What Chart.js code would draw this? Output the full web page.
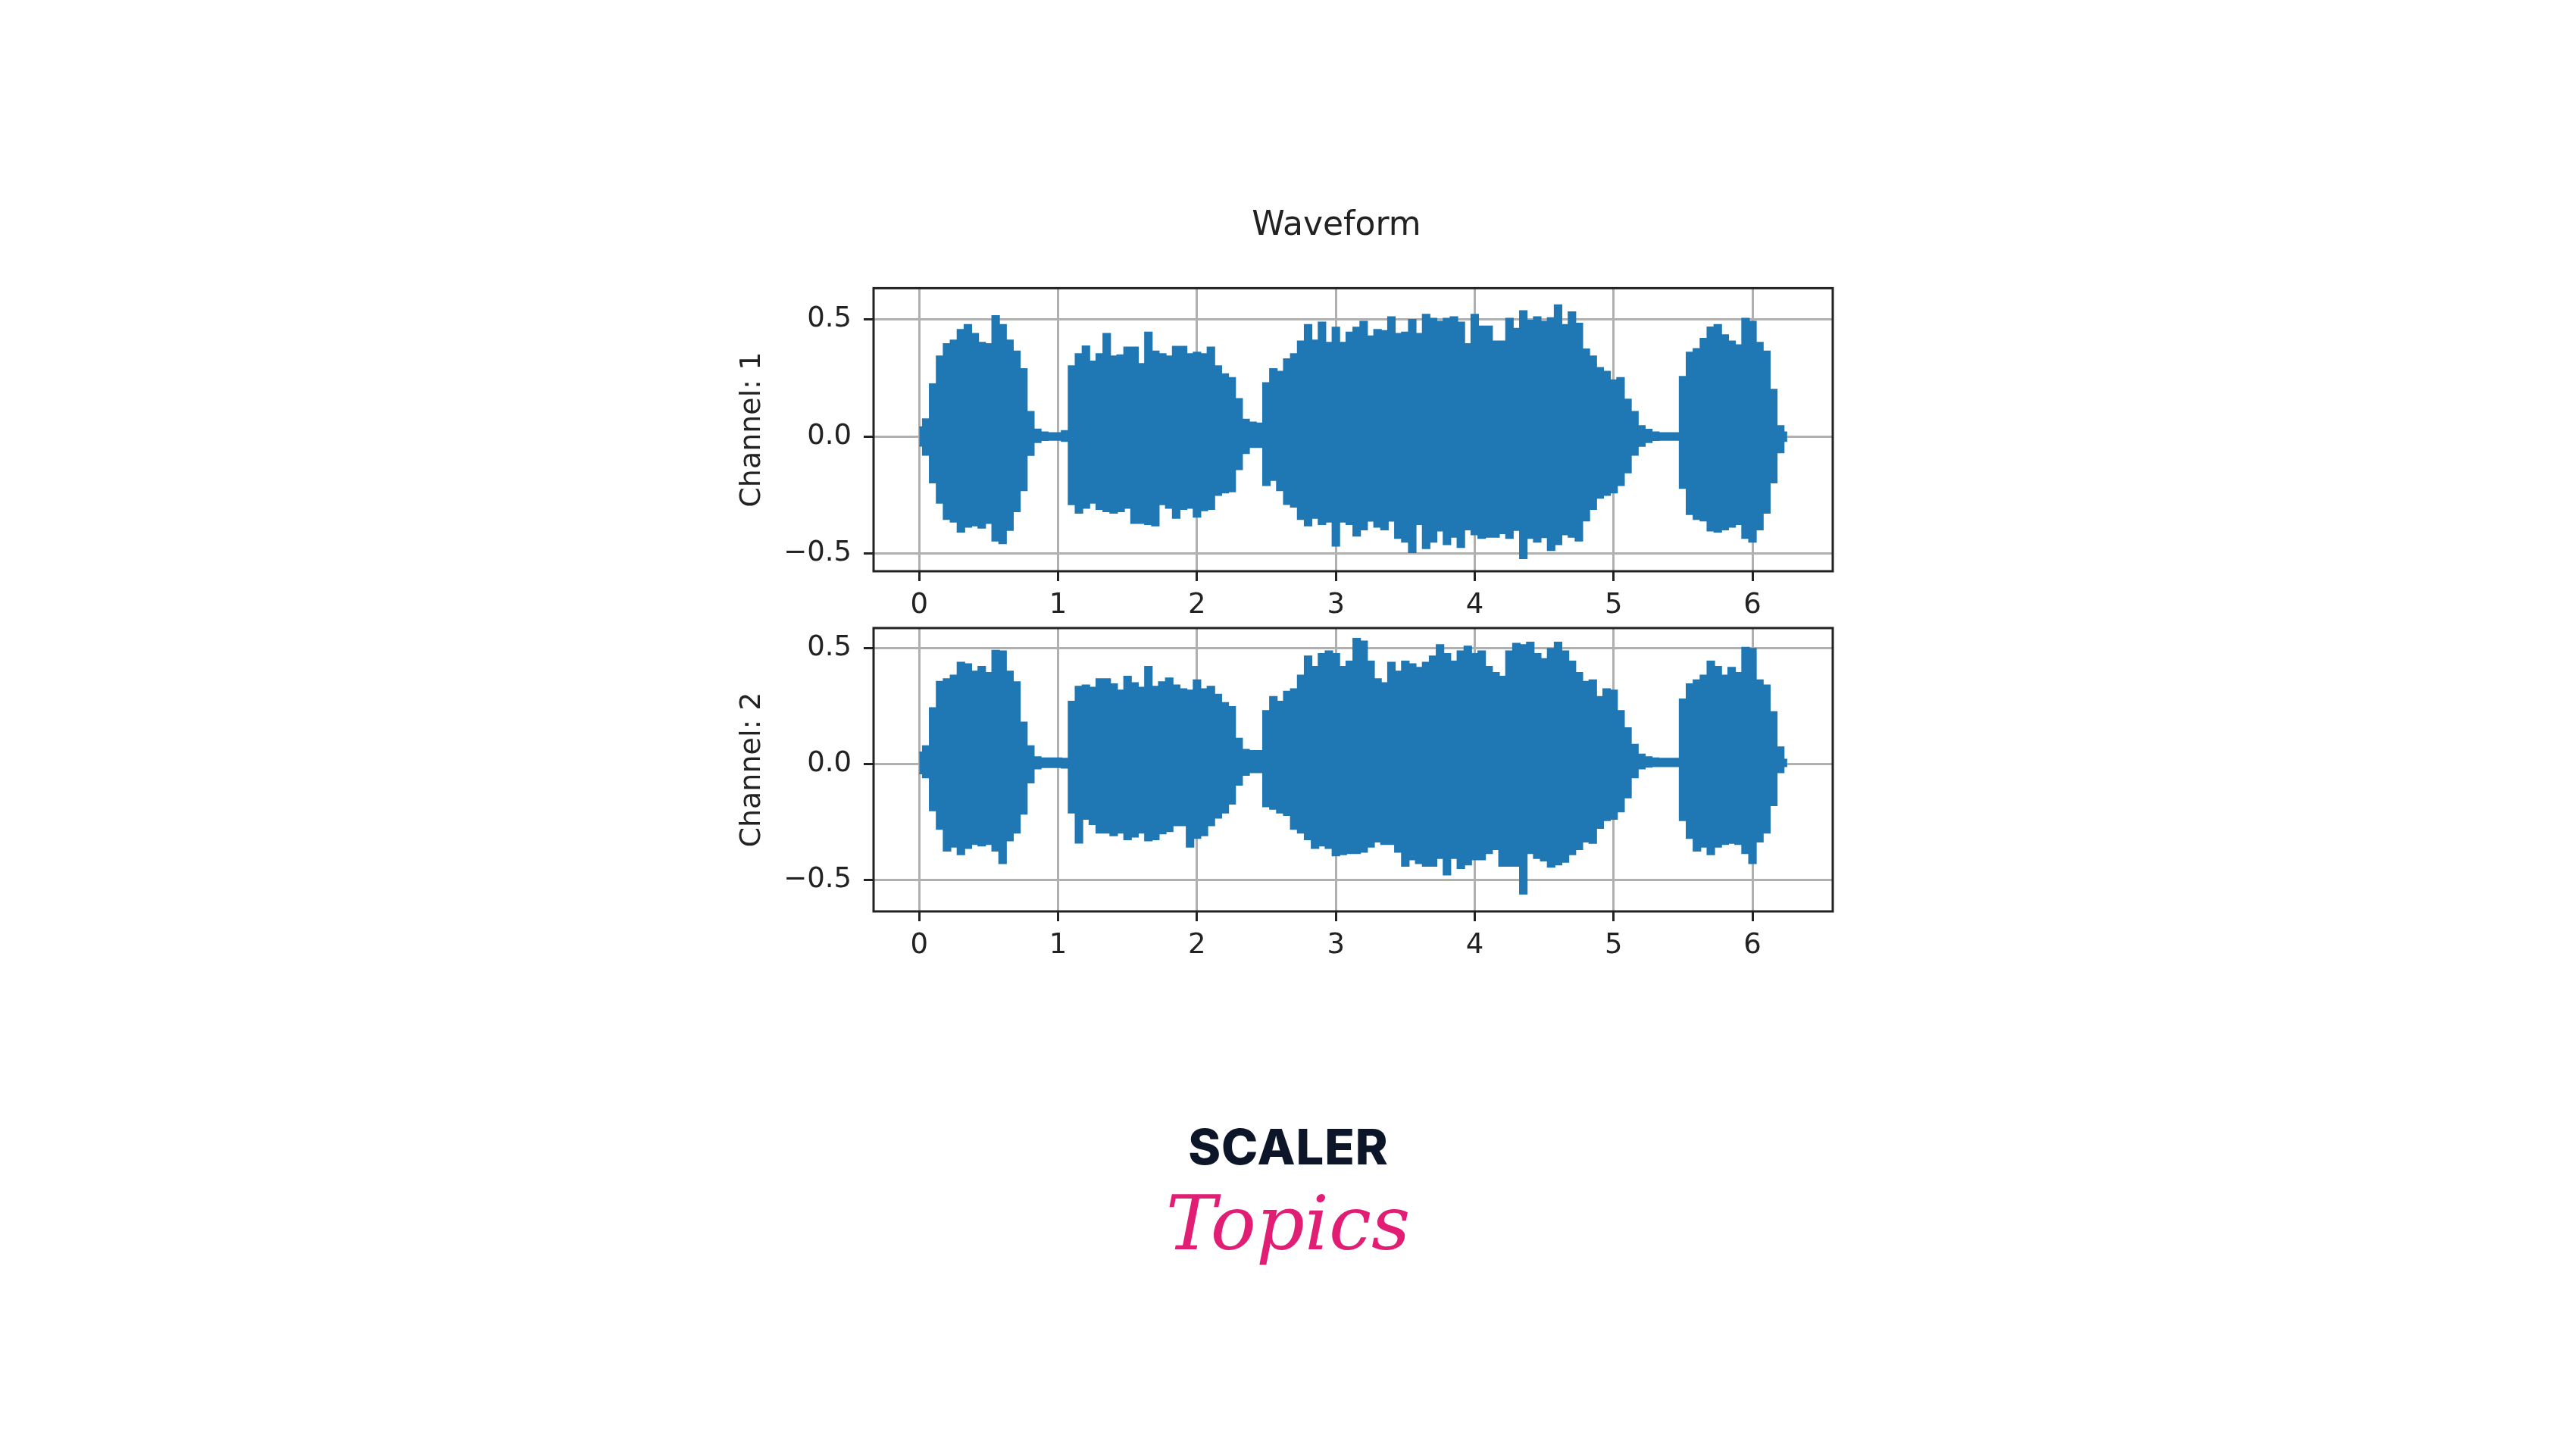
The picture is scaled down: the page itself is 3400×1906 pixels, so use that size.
<!DOCTYPE html>
<html>
<head>
<meta charset="utf-8">
<script src="https://cdn.jsdelivr.net/npm/chart.js@4.4.1/dist/chart.umd.min.js"></script>
<style>
  html, body { margin: 0; padding: 0; background: #fff; }
  body { width: 3400px; height: 1906px; position: relative; overflow: hidden; }
  canvas { position: absolute; left: 0; }
  #top { top: 0; }
  #bottom { top: 780px; }
  .logo { position: absolute; left: 0; width: 3400px; text-align: center; line-height: 1; white-space: nowrap; }
  #scaler { top: 1474px; font: 800 65px Inter, "Noto Sans", sans-serif; color: #0d1628; letter-spacing: 1px; padding-left: 1px; box-sizing: border-box; }
  #topics { top: 1556px; font: italic 100px "DejaVu Serif", serif; color: #e11d74; }
</style>
</head>
<body>
<canvas id="top" width="3400" height="825"></canvas>
<canvas id="bottom" width="3400" height="495"></canvas>
<div class="logo" id="scaler">SCALER</div>
<div class="logo" id="topics">Topics</div>
<script>
// envelope of the waveform, every 0.05 s
const times = [
  0, 0.05, 0.1, 0.15, 0.2, 0.25, 0.3, 0.35, 0.4, 0.45, 0.5, 0.55, 0.6, 0.65, 0.7, 0.75, 0.8, 0.85, 0.9, 0.95,
  1, 1.05, 1.1, 1.15, 1.2, 1.25, 1.3, 1.35, 1.4, 1.45, 1.5, 1.55, 1.6, 1.65, 1.7, 1.75, 1.8, 1.85, 1.9, 1.95,
  2, 2.05, 2.1, 2.15, 2.2, 2.25, 2.3, 2.35, 2.4, 2.45, 2.5, 2.55, 2.6, 2.65, 2.7, 2.75, 2.8, 2.85, 2.9, 2.95,
  3, 3.05, 3.1, 3.15, 3.2, 3.25, 3.3, 3.35, 3.4, 3.45, 3.5, 3.55, 3.6, 3.65, 3.7, 3.75, 3.8, 3.85, 3.9, 3.95,
  4, 4.05, 4.1, 4.15, 4.2, 4.25, 4.3, 4.35, 4.4, 4.45, 4.5, 4.55, 4.6, 4.65, 4.7, 4.75, 4.8, 4.85, 4.9, 4.95,
  5, 5.05, 5.1, 5.15, 5.2, 5.25, 5.3, 5.35, 5.4, 5.45, 5.5, 5.55, 5.6, 5.65, 5.7, 5.75, 5.8, 5.85, 5.9, 5.95,
  6, 6.05, 6.1, 6.15, 6.2, 6.25
];

const channel1High = [
  0.04, 0.074, 0.223, 0.342, 0.395, 0.41, 0.455, 0.476, 0.438, 0.40, 0.395, 0.514, 0.476, 0.41, 0.363, 0.288, 0.105, 0.03, 0.018, 0.015,
  0.015, 0.024, 0.30, 0.352, 0.385, 0.32, 0.352, 0.438, 0.342, 0.347, 0.38, 0.38, 0.31, 0.444, 0.363, 0.352, 0.342, 0.383, 0.383, 0.352,
  0.358, 0.352, 0.38, 0.30, 0.266, 0.25, 0.16, 0.072, 0.06, 0.056, 0.228, 0.288, 0.277, 0.33, 0.352, 0.406, 0.476, 0.41, 0.487, 0.40,
  0.465, 0.40, 0.444, 0.465, 0.49, 0.428, 0.455, 0.45, 0.509, 0.438, 0.444, 0.498, 0.438, 0.52, 0.503, 0.49, 0.503, 0.509, 0.487, 0.395,
  0.52, 0.47, 0.47, 0.406, 0.406, 0.503, 0.46, 0.535, 0.495, 0.509, 0.49, 0.505, 0.56, 0.476, 0.53, 0.482, 0.372, 0.342, 0.293, 0.277,
  0.24, 0.25, 0.158, 0.105, 0.045, 0.029, 0.018, 0.015, 0.015, 0.015, 0.255, 0.358, 0.374, 0.417, 0.466, 0.476, 0.433, 0.406, 0.39, 0.503,
  0.49, 0.40, 0.363, 0.20, 0.045, 0.018
];
const channel1Low = [
  -0.04, -0.079, -0.197, -0.283, -0.353, -0.364, -0.407, -0.386, -0.38, -0.39, -0.37, -0.445, -0.456, -0.40, -0.32, -0.23, -0.08, -0.025, -0.016, -0.015,
  -0.015, -0.02, -0.29, -0.326, -0.305, -0.283, -0.31, -0.32, -0.326, -0.32, -0.305, -0.37, -0.37, -0.375, -0.38, -0.29, -0.305, -0.348, -0.31, -0.305,
  -0.343, -0.316, -0.31, -0.25, -0.24, -0.235, -0.14, -0.072, -0.046, -0.046, -0.208, -0.186, -0.23, -0.289, -0.30, -0.353, -0.38, -0.348, -0.375, -0.364,
  -0.467, -0.364, -0.375, -0.424, -0.397, -0.36, -0.386, -0.397, -0.36, -0.434, -0.45, -0.494, -0.375, -0.477, -0.45, -0.402, -0.46, -0.429, -0.472, -0.397,
  -0.418, -0.434, -0.429, -0.429, -0.413, -0.434, -0.40, -0.52, -0.434, -0.45, -0.43, -0.485, -0.46, -0.418, -0.429, -0.445, -0.359, -0.31, -0.262, -0.25,
  -0.24, -0.208, -0.154, -0.079, -0.041, -0.025, -0.016, -0.015, -0.015, -0.015, -0.22, -0.332, -0.353, -0.359, -0.402, -0.407, -0.397, -0.386, -0.375, -0.434,
  -0.45, -0.397, -0.326, -0.197, -0.068, -0.02
];

const channel2High = [
  0.051, 0.078, 0.242, 0.356, 0.367, 0.383, 0.438, 0.432, 0.40, 0.42, 0.394, 0.49, 0.487, 0.40, 0.354, 0.18, 0.078, 0.03, 0.025, 0.025,
  0.025, 0.024, 0.27, 0.334, 0.34, 0.33, 0.367, 0.367, 0.345, 0.318, 0.378, 0.35, 0.33, 0.42, 0.334, 0.354, 0.37, 0.34, 0.324, 0.318,
  0.362, 0.324, 0.334, 0.30, 0.264, 0.247, 0.11, 0.062, 0.057, 0.057, 0.23, 0.29, 0.27, 0.313, 0.324, 0.383, 0.465, 0.42, 0.476, 0.487,
  0.476, 0.42, 0.443, 0.541, 0.53, 0.443, 0.367, 0.35, 0.438, 0.40, 0.443, 0.432, 0.416, 0.438, 0.465, 0.514, 0.476, 0.443, 0.487, 0.508,
  0.476, 0.487, 0.42, 0.394, 0.378, 0.487, 0.52, 0.514, 0.525, 0.476, 0.454, 0.498, 0.525, 0.487, 0.443, 0.394, 0.356, 0.362, 0.29, 0.324,
  0.318, 0.23, 0.155, 0.084, 0.042, 0.03, 0.025, 0.024, 0.024, 0.024, 0.28, 0.345, 0.362, 0.383, 0.443, 0.42, 0.383, 0.416, 0.394, 0.503,
  0.498, 0.362, 0.34, 0.225, 0.073, 0.02
];
const channel2Low = [
  -0.041, -0.058, -0.20, -0.28, -0.374, -0.357, -0.39, -0.363, -0.346, -0.352, -0.346, -0.374, -0.428, -0.33, -0.297, -0.215, -0.08, -0.02, -0.014, -0.014,
  -0.014, -0.016, -0.21, -0.34, -0.237, -0.26, -0.297, -0.297, -0.308, -0.297, -0.325, -0.314, -0.297, -0.33, -0.325, -0.30, -0.29, -0.265, -0.265, -0.357,
  -0.32, -0.308, -0.265, -0.232, -0.21, -0.172, -0.09, -0.047, -0.036, -0.036, -0.183, -0.194, -0.21, -0.221, -0.28, -0.297, -0.325, -0.363, -0.352, -0.363,
  -0.395, -0.39, -0.385, -0.385, -0.379, -0.357, -0.335, -0.346, -0.346, -0.379, -0.44, -0.412, -0.428, -0.44, -0.44, -0.406, -0.477, -0.406, -0.45, -0.434,
  -0.412, -0.412, -0.385, -0.368, -0.44, -0.44, -0.44, -0.56, -0.385, -0.406, -0.417, -0.444, -0.434, -0.423, -0.39, -0.368, -0.335, -0.341, -0.276, -0.243,
  -0.237, -0.205, -0.145, -0.058, -0.02, -0.012, -0.01, -0.01, -0.01, -0.01, -0.243, -0.32, -0.374, -0.357, -0.39, -0.357, -0.346, -0.341, -0.346, -0.385,
  -0.428, -0.335, -0.297, -0.178, -0.036, -0.01
];

const xTicks = [0, 1, 2, 3, 4, 5, 6];
const xTickLabels = ["0", "1", "2", "3", "4", "5", "6"];
const yTicks = [-0.5, 0, 0.5];
const yTickLabels = ["\u22120.5", "0.0", "0.5"];

const BLUE = "#1f77b4";
const INK = "#222222";
const GRID = "#b0b0b0";
const FONT = "'DejaVu Sans', sans-serif";

// box round the axes, like matplotlib spines
const frame = {
  id: "frame",
  afterDatasetsDraw(chart) {
    const { ctx, chartArea: a } = chart;
    ctx.save();
    ctx.strokeStyle = INK;
    ctx.lineWidth = 3;
    ctx.strokeRect(a.left, a.top, a.right - a.left, a.bottom - a.top);
    ctx.restore();
  }
};

const band = (high, low) => [
  { data: times.map((t, i) => ({ x: t, y: high[i] })), fill: "+1" },
  { data: times.map((t, i) => ({ x: t, y: low[i] })), fill: false }
].map(ds => Object.assign(ds, {
  stepped: "middle", borderColor: BLUE, backgroundColor: BLUE, borderWidth: 2, pointRadius: 0
}));

const makeChart = (id, high, low, label, yMin, yMax, opts) => new Chart(document.getElementById(id), {
  type: "line",
  data: { datasets: band(high, low) },
  options: {
    responsive: false,
    animation: false,
    devicePixelRatio: 1,
    events: [],
    layout: { padding: { left: 970, right: 842, top: opts.padTop, bottom: 0 } },
    plugins: {
      legend: { display: false },
      tooltip: { enabled: false },
      title: {
        display: !!opts.title,
        text: opts.title || "",
        color: INK,
        font: { family: FONT, size: 44, weight: "normal" },
        padding: { top: 0, bottom: 55.6 }
      }
    },
    scales: {
      x: {
        type: "linear",
        min: -0.329,
        max: 6.578,
        afterFit: s => { s.height = opts.xHeight; },
        afterBuildTicks: s => { s.ticks = xTicks.map(v => ({ value: v })); },
        grid: { color: GRID, lineWidth: 3, tickColor: INK, tickLength: 13, tickWidth: 3 },
        border: { display: false },
        ticks: {
          color: INK, padding: 10, maxRotation: 0, autoSkip: false,
          font: { family: FONT, size: 37 },
          callback: (v, i) => xTickLabels[i]
        }
      },
      y: {
        min: yMin,
        max: yMax,
        afterFit: s => { s.width = 183; },
        afterBuildTicks: s => { s.ticks = yTicks.map(v => ({ value: v })); },
        grid: { color: GRID, lineWidth: 3, tickColor: INK, tickLength: 13, tickWidth: 3 },
        border: { display: false },
        ticks: {
          color: INK, padding: 16, autoSkip: false,
          font: { family: FONT, size: 37 },
          callback: (v, i) => yTickLabels[i]
        },
        title: { display: true, text: label, color: INK, padding: 0, font: { family: FONT, size: 38 } }
      },
      right: {
        position: "right",
        afterFit: s => { s.width = 139; },
        grid: { display: false },
        border: { display: false },
        ticks: { display: false }
      }
    }
  },
  plugins: [frame]
});

makeChart("top", channel1High, channel1Low, "Channel: 1", -0.575, 0.6325, { padTop: 272, xHeight: 71, title: "Waveform" });
makeChart("bottom", channel2High, channel2Low, "Channel: 2", -0.636, 0.587, { padTop: 49, xHeight: 72 });
</script>
</body>
</html>
